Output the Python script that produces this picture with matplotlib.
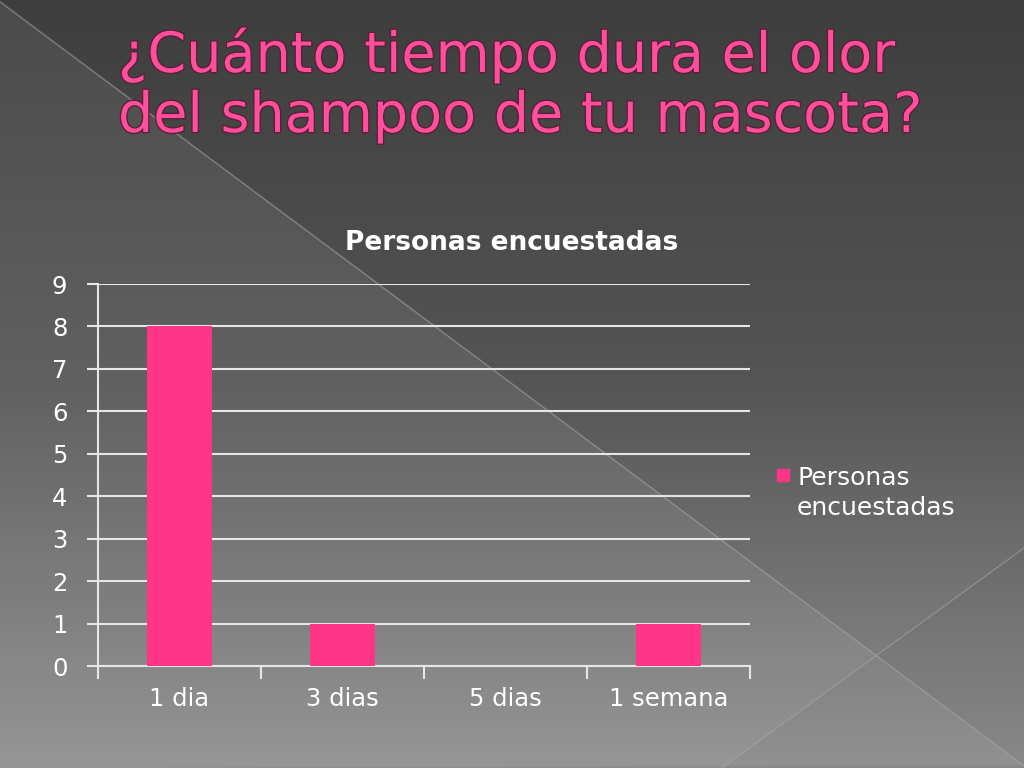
import matplotlib.pyplot as plt
import matplotlib.patheffects as pe
import numpy as np
from matplotlib.colors import LinearSegmentedColormap
from matplotlib.patches import Polygon

plt.rcParams["font.family"] = ["DejaVu Sans"]

# data
categories = ["1 dia", "3 dias", "5 dias", "1 semana"]
values = [8, 1, 0, 1]
series_name = "Personas encuestadas"
title_lines = ["¿Cuánto tiempo dura el olor", "del shampoo de tu mascota?"]

pink = "#ff3587"
title_pink = "#ff4f9c"

fig = plt.figure(figsize=(10.24, 7.68), dpi=100)

# background: vertical gradient with diagonal facets
bg = fig.add_axes([0, 0, 1, 1])
bg.set_xlim(0, 1024)
bg.set_ylim(768, 0)
bg.axis("off")
grad = np.linspace(0, 1, 256)[:, None]
cmap = LinearSegmentedColormap.from_list("bg", ["#3e3e3e", "#555555", "#8e8e8e"])
bg.imshow(grad, extent=[0, 1024, 768, 0], cmap=cmap, aspect="auto", zorder=0)
# lighter lower-left facet
bg.add_patch(Polygon([(0, 0), (1024, 765), (0, 768)], closed=True,
                     facecolor="white", alpha=0.07, edgecolor="none", zorder=1))
bg.plot([0, 1024], [2, 766], color="#a8a8a8", lw=0.8, alpha=0.6, zorder=2)
bg.plot([722, 1024], [768, 548], color="#a8a8a8", lw=0.8, alpha=0.6, zorder=2)
bg.add_patch(Polygon([(722, 768), (1024, 548), (1024, 768)], closed=True,
                     facecolor="black", alpha=0.03, edgecolor="none", zorder=1))

# slide title
for i, line in enumerate(title_lines):
    bg.text(118, 72 + i * 60, line, fontsize=40, color=title_pink, ha="left",
            va="baseline", zorder=5,
            path_effects=[pe.withStroke(linewidth=2, foreground="#5a2038")])

# chart
ax = fig.add_axes([98 / 1024, 102 / 768, 652 / 1024, 382 / 768])
ax.patch.set_alpha(0)
x = np.arange(len(categories))
ax.bar(x, values, width=0.4, color=pink, zorder=3)
ax.set_xlim(-0.5, len(categories) - 0.5)
ax.set_ylim(0, 9)
ax.set_yticks(range(0, 10))
ax.yaxis.grid(True, color="#e6e6e6", lw=1.5, zorder=1)
ax.set_axisbelow(True)
for s in ["top", "right"]:
    ax.spines[s].set_visible(False)
for s in ["left", "bottom"]:
    ax.spines[s].set_color("#e6e6e6")
    ax.spines[s].set_linewidth(1.5)
ax.tick_params(axis="y", colors="#e6e6e6", labelcolor="white", length=8,
               width=1.5, labelsize=17.5, pad=14)
ax.set_xticks(np.arange(-0.5, len(categories), 1.0))
ax.set_xticklabels([])
ax.tick_params(axis="x", which="major", colors="#e6e6e6", length=9, width=1.5)
ax.set_xticks(x, minor=True)
ax.set_xticklabels(categories, minor=True)
ax.tick_params(axis="x", which="minor", length=0, labelcolor="white",
               labelsize=17.5, pad=15)

fig.text(512 / 1024, 1 - 243 / 768, series_name, ha="center", va="center",
         fontsize=19, fontweight="bold", color="white")

# legend
bg.add_patch(plt.Rectangle((777, 469), 12, 12, color=pink, zorder=5))
bg.text(797, 478, "Personas", fontsize=18, color="white", va="center", zorder=5)
bg.text(797, 508, "encuestadas", fontsize=18, color="white", va="center", zorder=5)

fig.savefig("out.png", dpi=100)
